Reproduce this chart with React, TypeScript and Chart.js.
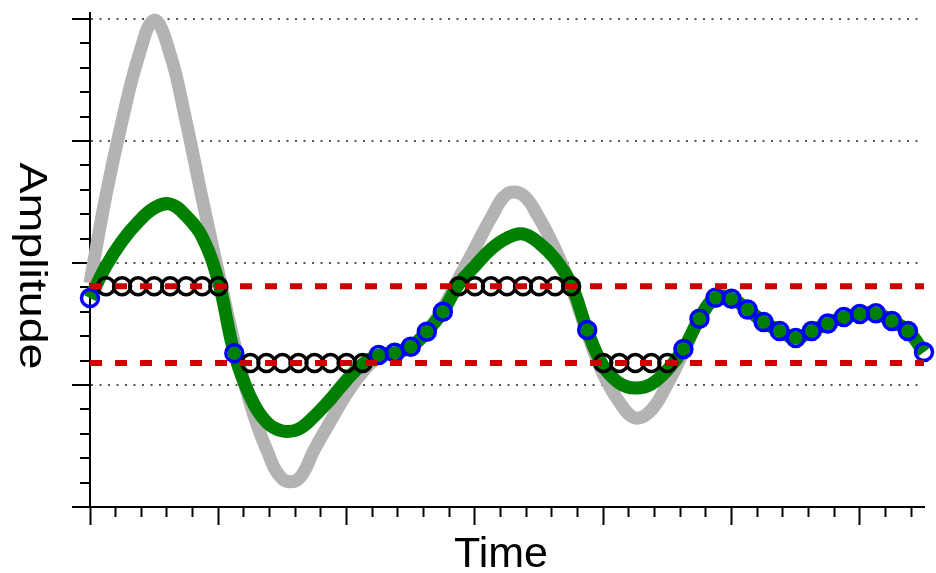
import { useEffect, useRef } from "react";
import { Chart, registerables } from "chart.js";

Chart.register(...registerables);

// Sample times (53 samples)
const TIME = [
  0, 0.125, 0.25, 0.375, 0.5, 0.625, 0.75, 0.875, 1, 1.125, 1.25, 1.375, 1.5,
  1.625, 1.75, 1.875, 2, 2.125, 2.25, 2.375, 2.5, 2.625, 2.75, 2.875, 3, 3.125,
  3.25, 3.375, 3.5, 3.625, 3.75, 3.875, 4, 4.125, 4.25, 4.375, 4.5, 4.625, 4.75,
  4.875, 5, 5.125, 5.25, 5.375, 5.5, 5.625, 5.75, 5.875, 6, 6.125, 6.25, 6.375, 6.5,
];

// Original signal (grey)
const ORIGINAL = [
  -0.164, 0.557, 1.164, 1.68, 1.992, 1.713, 1.156, 0.525, -0.074, -0.656, -1.156,
  -1.525, -1.77, -1.77, -1.525, -1.295, -1.074, -0.893, -0.77, -0.738, -0.689,
  -0.566, -0.369, -0.123, 0.123, 0.369, 0.566, 0.557, 0.369, 0.115, -0.197,
  -0.574, -0.91, -1.139, -1.27, -1.205, -0.992, -0.73, -0.457, -0.284, -0.293,
  -0.38, -0.484, -0.557, -0.615, -0.557, -0.496, -0.443, -0.418, -0.412, -0.475,
  -0.557, -0.73,
];

// Filtered signal (green)
const FILTERED = [
  -0.287, -0.025, 0.18, 0.336, 0.451, 0.484, 0.385, 0.213, -0.148, -0.74, -1.098,
  -1.303, -1.377, -1.361, -1.254, -1.115, -0.959, -0.828, -0.754, -0.735, -0.686,
  -0.563, -0.399, -0.172, -0.025, 0.115, 0.205, 0.238, 0.164, 0.033, -0.172,
  -0.549, -0.844, -0.984, -1.025, -0.992, -0.877, -0.705, -0.457, -0.284, -0.293,
  -0.38, -0.484, -0.557, -0.615, -0.557, -0.496, -0.443, -0.418, -0.412, -0.475,
  -0.557, -0.73,
];

// Clipping thresholds
const CLIP_HIGH = -0.19;
const CLIP_LOW = -0.82;

// Clipped samples (markers)
const SAMPLES = [
  -0.287, -0.19, -0.19, -0.19, -0.19, -0.19, -0.19, -0.19, -0.19, -0.74, -0.82,
  -0.82, -0.82, -0.82, -0.82, -0.82, -0.82, -0.82, -0.754, -0.735, -0.686,
  -0.563, -0.399, -0.19, -0.19, -0.19, -0.19, -0.19, -0.19, -0.19, -0.19,
  -0.549, -0.82, -0.82, -0.82, -0.82, -0.82, -0.705, -0.457, -0.284, -0.293,
  -0.38, -0.484, -0.557, -0.615, -0.557, -0.496, -0.443, -0.418, -0.412, -0.475,
  -0.557, -0.73,
];

const X_MIN = 0;
const X_MAX = 6.5;
const Y_MIN = -2;
const Y_MAX = 2.05;

const X_TICKS = [
  0, 0.2, 0.4, 0.6, 0.8, 1, 1.2, 1.4, 1.6, 1.8, 2, 2.2, 2.4, 2.6, 2.8, 3, 3.2,
  3.4, 3.6, 3.8, 4, 4.2, 4.4, 4.6, 4.8, 5, 5.2, 5.4, 5.6, 5.8, 6, 6.2, 6.4,
];
const Y_TICKS = [
  -2, -1.8, -1.6, -1.4, -1.2, -1, -0.8, -0.6, -0.4, -0.2, 0, 0.2, 0.4, 0.6, 0.8,
  1, 1.2, 1.4, 1.6, 1.8, 2,
];

const X_TITLE = "Time";
const Y_TITLE = "Amplitude";

const isMajor = (v: any) =>
  typeof v === "number" && Math.abs(v - Math.round(v)) < 1e-6;

export default function App() {
  const canvasRef = useRef<HTMLCanvasElement>(null);

  useEffect(() => {
    const canvas = canvasRef.current;
    if (!canvas) return;
    const pts = (ys: number[]) => TIME.map((t, i) => ({ x: t, y: ys[i] }));

    const titlePlugin = {
      id: "axisTitles",
      afterDraw(chart: any) {
        const { ctx, chartArea } = chart;
        ctx.save();
        ctx.fillStyle = "#000";
        ctx.textAlign = "center";
        ctx.textBaseline = "alphabetic";
        ctx.font = '43px "Liberation Sans", Arial, sans-serif';
        ctx.fillText(
          X_TITLE,
          (chartArea.left + chartArea.right) / 2 - 6,
          chartArea.bottom + 60
        );
        ctx.restore();

        ctx.save();
        ctx.fillStyle = "#000";
        ctx.font = '38px "Liberation Sans", Arial, sans-serif';
        ctx.textAlign = "center";
        ctx.textBaseline = "alphabetic";
        const w = ctx.measureText(Y_TITLE).width;
        ctx.translate(20, (chartArea.top + chartArea.bottom) / 2 + 6);
        ctx.rotate(Math.PI / 2);
        ctx.scale(207 / w, 1);
        ctx.fillText(Y_TITLE, 0, 0);
        ctx.restore();
      },
    };

    const chart = new Chart(canvas, {
      type: "line",
      data: {
        datasets: [
          {
            label: "clip high",
            data: [
              { x: X_MIN, y: CLIP_HIGH },
              { x: X_MAX, y: CLIP_HIGH },
            ],
            borderColor: "#cc0000",
            borderWidth: 6,
            borderDash: [12, 13],
            pointRadius: 0,
            tension: 0,
            order: 1,
            clip: false,
          } as any,
          {
            label: "clip low",
            data: [
              { x: X_MIN, y: CLIP_LOW },
              { x: X_MAX, y: CLIP_LOW },
            ],
            borderColor: "#cc0000",
            borderWidth: 6,
            borderDash: [12, 13],
            pointRadius: 0,
            tension: 0,
            order: 1,
            clip: false,
          },
          {
            label: "samples",
            data: pts(SAMPLES),
            showLine: false,
            borderWidth: 3.5,
            pointRadius: 8.5,
            pointBorderWidth: 3.5,
            pointBackgroundColor: "rgba(0,0,0,0)",
            pointBorderColor: (c: any) => {
              const v = c.raw && c.raw.y;
              return v === CLIP_HIGH || v === CLIP_LOW ? "#000000" : "#0000ff";
            },
            order: 2,
            clip: false,
          },
          {
            label: "filtered",
            data: pts(FILTERED),
            borderColor: "#008000",
            borderWidth: 13,
            borderJoinStyle: "round",
            pointRadius: 0,
            tension: 0.4,
            order: 3,
            clip: false,
          },
          {
            label: "original",
            data: pts(ORIGINAL),
            borderColor: "#b3b3b3",
            borderWidth: 13,
            borderJoinStyle: "round",
            pointRadius: 0,
            tension: 0.4,
            order: 4,
            clip: false,
          },
        ],
      },
      options: {
        responsive: false,
        animation: false,
        events: [],
        layout: { padding: { top: 13, right: 8.8, left: 0, bottom: 0 } },
        plugins: {
          legend: { display: false },
          tooltip: { enabled: false },
        },
        scales: {
          x: {
            type: "linear",
            min: X_MIN,
            max: X_MAX,
            afterBuildTicks: (s: any) => {
              s.ticks = X_TICKS.map((v) => ({ value: v }));
            },
            afterFit: (s: any) => {
              s.height = 66;
            },
            ticks: { display: false, autoSkip: false },
            grid: {
              drawOnChartArea: false,
              drawTicks: true,
              tickLength: 18,
              tickWidth: 2,
              tickColor: "#000",
              tickBorderDash: (c: any) =>
                isMajor(c.tick && c.tick.value) ? [] : [9, 100],
            },
            border: { display: true, color: "#000", width: 2 },
          },
          y: {
            type: "linear",
            min: Y_MIN,
            max: Y_MAX,
            afterBuildTicks: (s: any) => {
              s.ticks = Y_TICKS.map((v) => ({ value: v }));
            },
            afterFit: (s: any) => {
              s.width = 90;
            },
            ticks: { display: false, autoSkip: false },
            grid: {
              drawOnChartArea: true,
              drawTicks: true,
              lineWidth: 2,
              color: (c: any) => {
                const v = c.tick && c.tick.value;
                return isMajor(v) && v !== Y_MIN ? "#555555" : "rgba(0,0,0,0)";
              },
              tickLength: 18,
              tickWidth: 2,
              tickColor: "#000",
              tickBorderDash: (c: any) =>
                isMajor(c.tick && c.tick.value) ? [] : [0, 8, 30],
            },
            border: { display: true, color: "#000", width: 2, dash: [2, 6.5] },
          },
        },
      } as any,
      plugins: [titlePlugin],
    });

    return () => chart.destroy();
  }, []);

  return (
    <div
      style={{
        position: "absolute",
        left: 0,
        top: 0,
        width: 936,
        height: 573,
        background: "#fff",
      }}
    >
      <canvas
        ref={canvasRef}
        width={936}
        height={573}
        style={{ display: "block", width: 936, height: 573 }}
      />
    </div>
  );
}
